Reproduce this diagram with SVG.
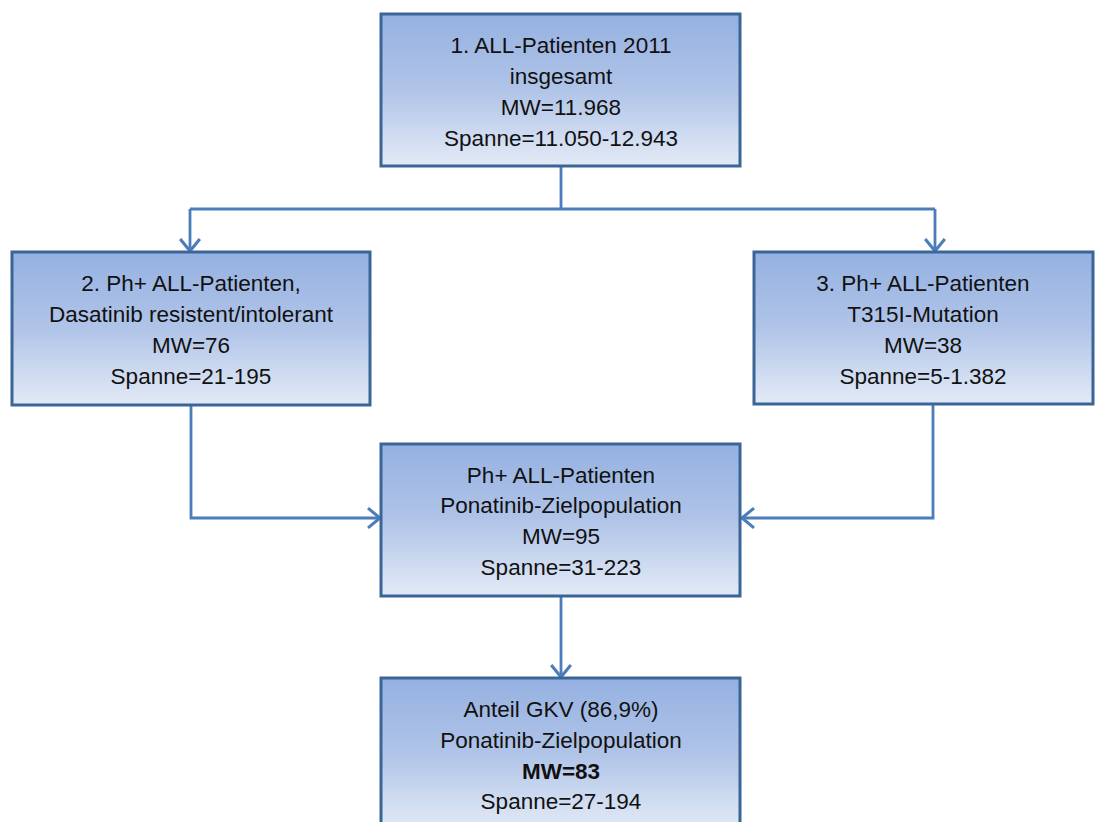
<svg xmlns="http://www.w3.org/2000/svg" width="1104" height="822" viewBox="0 0 1104 822">
<style>
.box{stroke:#3B6497;stroke-width:3;fill:url(#g)}
.t{font-family:"Liberation Sans",Arial,sans-serif;font-size:22.5px;fill:#111;text-anchor:middle}
.b{font-weight:bold}
.c{fill:none;stroke:#4A7DBA;stroke-width:2.8}
</style>
<defs>
<linearGradient id="g" x1="0" y1="0" x2="0" y2="1">
<stop offset="0" stop-color="#95B1E1"/>
<stop offset="0.5" stop-color="#B0C4E8"/>
<stop offset="1" stop-color="#E3EAF6"/>
</linearGradient>
<marker id="a" markerWidth="20" markerHeight="24" viewBox="-13 -11 16 22" refX="0" refY="0" orient="auto" markerUnits="userSpaceOnUse">
<path d="M-11,-9 L0,0 L-11,9" fill="none" stroke="#4A7DBA" stroke-width="2.8"/>
</marker>
</defs>
<g id="connectors">
<path class="c" d="M561,166 V209"/>
<path class="c" d="M190,209 H935"/>
<path class="c" d="M190,209 V251" marker-end="url(#a)"/>
<path class="c" d="M935,209 V251" marker-end="url(#a)"/>
<path class="c" d="M191,405 V518 H380" marker-end="url(#a)"/>
<path class="c" d="M933,404 V518 H742" marker-end="url(#a)"/>
<path class="c" d="M561,596 V677" marker-end="url(#a)"/>
</g>
<g id="n1">
<rect class="box" x="381" y="14" width="359" height="152"/>
<text class="t" x="561" y="53">1. ALL-Patienten 2011</text>
<text class="t" x="561" y="84">insgesamt</text>
<text class="t" x="561" y="115">MW=11.968</text>
<text class="t" x="561" y="146">Spanne=11.050-12.943</text>
</g>
<g id="n2">
<rect class="box" x="12" y="252" width="358" height="153"/>
<text class="t" x="191" y="291">2. Ph+ ALL-Patienten,</text>
<text class="t" x="191" y="322">Dasatinib resistent/intolerant</text>
<text class="t" x="191" y="353">MW=76</text>
<text class="t" x="191" y="384">Spanne=21-195</text>
</g>
<g id="n3">
<rect class="box" x="754" y="252" width="339" height="152"/>
<text class="t" x="923" y="291">3. Ph+ ALL-Patienten</text>
<text class="t" x="923" y="322">T315I-Mutation</text>
<text class="t" x="923" y="353">MW=38</text>
<text class="t" x="923" y="384">Spanne=5-1.382</text>
</g>
<g id="n4">
<rect class="box" x="381" y="444" width="359" height="152"/>
<text class="t" x="561" y="483">Ph+ ALL-Patienten</text>
<text class="t" x="561" y="513">Ponatinib-Zielpopulation</text>
<text class="t" x="561" y="544">MW=95</text>
<text class="t" x="561" y="575">Spanne=31-223</text>
</g>
<g id="n5">
<rect class="box" x="381" y="678" width="359" height="152"/>
<text class="t" x="561" y="717">Anteil GKV (86,9%)</text>
<text class="t" x="561" y="748">Ponatinib-Zielpopulation</text>
<text class="t b" x="561" y="779">MW=83</text>
<text class="t" x="561" y="809">Spanne=27-194</text>
</g>
</svg>
